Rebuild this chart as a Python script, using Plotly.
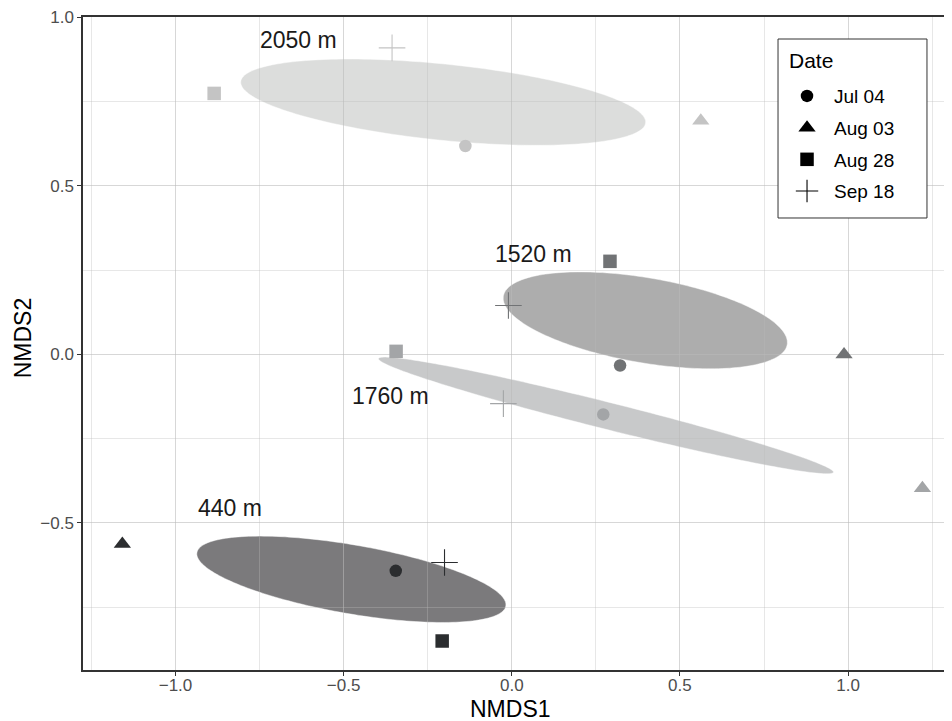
import numpy as np
import plotly.graph_objects as go

# ---------------- data ----------------
dates = ["Jul 04", "Aug 03", "Aug 28", "Sep 18"]
date_symbols = ["circle", "triangle-up", "square", "cross-thin"]
date_sizes = [12.5, 15, 13.5, 19]

sites = ["440 m", "1520 m", "1760 m", "2050 m"]
site_colors = ["#2b2d2f", "#717375", "#a3a5a7", "#c4c4c4"]
ellipse_fills = ["#7b7a7c", "#adadad", "#c8c9ca", "#dcdddc"]

# NMDS scores per site, ordered as `dates`
nmds1_440 = [-0.345, -1.158, -0.207, -0.200]
nmds2_440 = [-0.642, -0.562, -0.850, -0.617]
nmds1_1520 = [0.322, 0.988, 0.292, -0.010]
nmds2_1520 = [-0.033, 0.000, 0.276, 0.145]
nmds1_1760 = [0.272, 1.221, -0.344, -0.025]
nmds2_1760 = [-0.178, -0.397, 0.009, -0.146]
nmds1_2050 = [-0.138, 0.562, -0.885, -0.356]
nmds2_2050 = [0.618, 0.693, 0.774, 0.909]

# ellipse parameters per site (centre, semi-axes, rotation in degrees)
ell_cx = [-0.477, 0.397, 0.280, -0.204]
ell_cy = [-0.667, 0.101, -0.181, 0.748]
ell_a = [0.466, 0.428, 0.697, 0.605]
ell_b = [0.102, 0.126, 0.040, 0.113]
ell_angle = [-9.8, -9.7, -14.0, -5.8]

# site label positions
label_x = [-0.839, 0.064, -0.362, -0.635]
label_y = [-0.457, 0.298, -0.124, 0.932]

x_ticks = [-1.0, -0.5, 0.0, 0.5, 1.0]
y_ticks = [-0.5, 0.0, 0.5, 1.0]

nmds1 = [nmds1_440, nmds1_1520, nmds1_1760, nmds1_2050]
nmds2 = [nmds2_440, nmds2_1520, nmds2_1760, nmds2_2050]

FONT = "Liberation Sans, Arial, Helvetica, sans-serif"
GRID = "rgba(185,185,185,0.35)"

fig = go.Figure()

# ellipses as shapes below the grid
shapes = []
t = np.linspace(0, 2 * np.pi, 200)
for i in range(len(sites)):
    th = np.deg2rad(ell_angle[i])
    ex = ell_cx[i] + ell_a[i] * np.cos(t) * np.cos(th) - ell_b[i] * np.sin(t) * np.sin(th)
    ey = ell_cy[i] + ell_a[i] * np.cos(t) * np.sin(th) + ell_b[i] * np.sin(t) * np.cos(th)
    path = "M " + " L ".join(f"{a:.5f},{b:.5f}" for a, b in zip(ex, ey)) + " Z"
    shapes.append(dict(type="path", path=path, xref="x", yref="y", layer="below",
                       fillcolor=ellipse_fills[i],
                       line=dict(color="rgba(255,255,255,0.45)", width=1)))

# legend frame
shapes.append(dict(type="rect", xref="paper", yref="paper",
                   x0=0.7998, x1=0.9712, y0=0.6922, y1=0.9663, layer="above",
                   fillcolor="white", line=dict(color="#333333", width=1)))

# points
for i in range(len(sites)):
    for j in range(len(dates)):
        is_cross = date_symbols[j] == "cross-thin"
        fig.add_trace(go.Scatter(
            x=[nmds1[i][j]], y=[nmds2[i][j]], mode="markers",
            marker=dict(symbol=date_symbols[j], size=date_sizes[j], color=site_colors[i],
                        line=dict(color=site_colors[i], width=1.1 if is_cross else 0)),
            showlegend=False, hoverinfo="skip"))

# legend entries (black)
for j in range(len(dates)):
    is_cross = date_symbols[j] == "cross-thin"
    fig.add_trace(go.Scatter(
        x=[None], y=[None], mode="markers", name=dates[j], legendgroup=dates[j],
        marker=dict(symbol=date_symbols[j], size=date_sizes[j], color="black",
                    line=dict(color="black", width=1.1 if is_cross else 0)),
        showlegend=True))

annotations = []
for i in range(len(sites)):
    annotations.append(dict(x=label_x[i], y=label_y[i], xref="x", yref="y", text=sites[i],
                            showarrow=False, font=dict(size=23, color="#1a1a1a", family=FONT),
                            xanchor="center", yanchor="middle"))
# axis titles
annotations.append(dict(x=0.4925, y=-0.0595, xref="paper", yref="paper", text="NMDS1",
                        showarrow=False, borderpad=0,
                        font=dict(size=23, color="black", family=FONT),
                        xanchor="center", yanchor="middle"))
annotations.append(dict(x=-0.069, y=0.508, xref="paper", yref="paper", text="NMDS2",
                        showarrow=False, textangle=-90,
                        font=dict(size=23, color="black", family=FONT),
                        xanchor="center", yanchor="middle"))
# legend title
annotations.append(dict(x=0.8100, y=0.9330, xref="paper", yref="paper", text="Date",
                        showarrow=False, font=dict(size=21, color="black", family=FONT),
                        xanchor="left", yanchor="middle"))

axis_common = dict(
    showgrid=True, gridcolor=GRID, gridwidth=1.4, automargin=False,
    zeroline=False, showline=True, linecolor="#333333", linewidth=1.5,
    ticks="outside", ticklen=4, tickwidth=1.3, tickcolor="#333333",
    tickfont=dict(size=17, color="#4d4d4d", family=FONT),
    tickformat=".1f",
    minor=dict(showgrid=True, gridcolor=GRID, gridwidth=0.7, ticks=""),
)

fig.update_layout(
    width=944, height=713,
    margin=dict(l=75, r=0, t=9, b=51, autoexpand=False),
    paper_bgcolor="white", plot_bgcolor="white",
    font=dict(family=FONT, color="black"),
    shapes=shapes,
    annotations=annotations,
    xaxis=dict(range=[-1.275, 1.309], tickvals=x_ticks, mirror=True,
               ticklabelstandoff=-5, **axis_common),
    yaxis=dict(range=[-0.936, 1.0006], tickvals=y_ticks, mirror=False, **axis_common),
    legend=dict(x=0.8021, y=0.908, xanchor="left", yanchor="top",
                bgcolor="rgba(0,0,0,0)", borderwidth=0,
                font=dict(size=19, color="black"), tracegroupgap=4,
                itemsizing="trace", itemwidth=44),
)
fig.update_xaxes(minor=dict(dtick=0.25, tick0=0))
fig.update_yaxes(minor=dict(dtick=0.25, tick0=0))

fig.write_html("out.html")
